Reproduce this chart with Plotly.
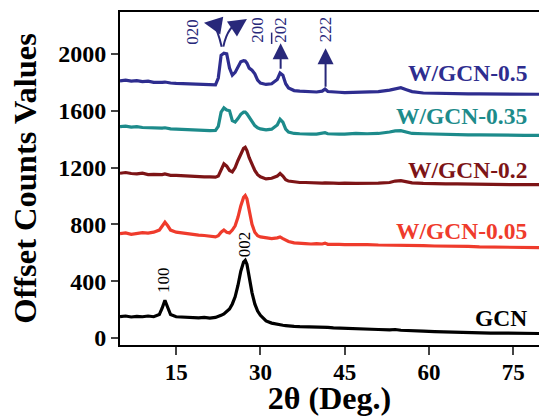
import plotly.graph_objects as go

two_theta = [5, 6, 7, 8, 9, 10, 11, 12,
             12.5, 13, 13.5, 14,
             15, 16, 17, 18, 19, 20, 21, 22,
             22.5, 23, 23.5, 24, 24.5, 25, 25.5, 26, 26.5, 27, 27.3, 27.6, 28, 28.5, 29, 29.5,
             30, 31, 32, 33,
             33.5, 34, 34.5,
             35, 36, 37, 38, 39, 40, 41,
             41.5, 42,
             43, 44, 45,
             47, 49, 51, 53,
             54, 55, 56, 57,
             59, 61, 63, 65, 67, 69, 71, 73, 75, 77,
             79.6]

gcn = [150, 155, 148, 152, 150, 155, 150, 165,
       210, 265, 215, 165,
       150, 148, 145, 147, 142, 145, 140, 145,
       150, 160, 170, 185, 205, 240, 290, 370, 470, 535, 547, 520, 430, 320, 240, 190,
       160, 120, 105, 95,
       92, 90, 88,
       85, 82, 80, 80, 78, 78, 75,
       80, 75,
       72, 70, 72,
       68, 65, 60, 58,
       60, 55, 52, 50,
       48, 45, 42, 42, 40, 38, 35, 35, 33, 32,
       32]

w_005 = [735, 740, 730, 738, 742, 738, 745, 760,
         790, 815, 790, 760,
         745, 740, 730, 728, 725, 722, 718, 712,
         720, 745, 760, 745, 740, 760, 790, 850, 930, 990, 1003, 980, 900, 800, 745, 720,
         712, 705, 700, 705,
         712, 700, 690,
         680, 670, 665, 665, 662, 665, 662,
         668, 660,
         662, 660, 658,
         660, 658, 655, 655,
         652, 655, 650, 650,
         650, 648, 648, 645, 645, 642, 640, 640, 640, 638,
         636]

w_02 = [1160, 1165, 1158, 1155, 1160, 1150, 1152, 1148,
        1150, 1155, 1150, 1145,
        1145, 1142, 1140, 1140, 1138, 1135, 1135, 1132,
        1140, 1190, 1226, 1210, 1180, 1170, 1200, 1250, 1300, 1335, 1343, 1320, 1270, 1220, 1180, 1150,
        1135, 1120, 1125, 1140,
        1158, 1140, 1115,
        1105, 1098, 1095, 1095, 1092, 1092, 1090,
        1092, 1090,
        1090, 1088, 1090,
        1088, 1088, 1090, 1095,
        1105, 1108, 1100, 1092,
        1088, 1085, 1085, 1085, 1083, 1082, 1082, 1081, 1080, 1080,
        1080]

w_035 = [1488, 1492, 1485, 1488, 1482, 1480, 1478, 1475,
         1478, 1480, 1476, 1472,
         1470, 1468, 1466, 1464, 1462, 1460, 1460, 1462,
         1490, 1590, 1620, 1605, 1600, 1530, 1520, 1545, 1575, 1590, 1590, 1578, 1555, 1520, 1495, 1480,
         1472, 1465, 1470, 1500,
         1540, 1520, 1470,
         1450, 1440, 1438, 1435, 1436, 1435, 1438,
         1445, 1438,
         1435, 1436, 1435,
         1440, 1438, 1440, 1450,
         1458, 1460, 1450, 1440,
         1438, 1435, 1432, 1432, 1430, 1430, 1428, 1428, 1428, 1427,
         1427]

w_05 = [1810, 1815, 1808, 1812, 1805, 1808, 1800, 1798,
        1800, 1802, 1798, 1795,
        1792, 1790, 1788, 1788, 1785, 1782, 1780, 1782,
        1830, 1990, 2005, 2000, 1900, 1850, 1870, 1910, 1945, 1952, 1950, 1935, 1900, 1885, 1860, 1815,
        1795, 1785, 1790, 1820,
        1865, 1850, 1790,
        1760, 1742, 1738, 1735, 1735, 1732, 1738,
        1752, 1735,
        1730, 1730, 1728,
        1730, 1728, 1735, 1745,
        1755, 1762, 1748, 1735,
        1725, 1722, 1720, 1720, 1718, 1718, 1718, 1717, 1716, 1716,
        1716]

series_names = ["GCN", "W/GCN-0.05", "W/GCN-0.2", "W/GCN-0.35", "W/GCN-0.5"]
series_values = [gcn, w_005, w_02, w_035, w_05]
series_colors = ["#000000", "#ef3b2c", "#7d1416", "#1d8b8b", "#2e2d8f"]
label_y = [143, 754, 1183, 1563, 1866]

y_ticks = [0, 400, 800, 1200, 1600, 2000]
x_ticks = [15, 30, 45, 60, 75]

peak_labels = ["100", "002", "020", "200", "202", "222"]
peak_label_x = [12.65, 27.1, 18.0, 29.55, 33.6, 41.6]
peak_label_y = [408, 661, 2156, 2170, 2167, 2170]
peak_label_color = ["#000000", "#000000", "#28287a", "#28287a", "#28287a", "#28287a"]

FONT = "Liberation Serif"
NAVY = "#28287a"

fig = go.Figure()
for name, vals, col in zip(series_names, series_values, series_colors):
    fig.add_trace(go.Scatter(x=two_theta, y=vals, mode="lines", name=name,
                             line=dict(color=col, width=3.2), showlegend=False))

annotations = []
for name, ly, col in zip(series_names, label_y, series_colors):
    annotations.append(dict(x=0.976, xref="paper", y=ly, yref="y", text="<b>%s</b>" % name,
                            showarrow=False, xanchor="right", yanchor="middle",
                            font=dict(family=FONT, size=23.5, color=col)))
for t, px, py, c in zip(peak_labels, peak_label_x, peak_label_y, peak_label_color):
    annotations.append(dict(x=px, y=py, xref="x", yref="y", text=t, textangle=-90,
                            showarrow=False, xanchor="center", yanchor="middle",
                            font=dict(family=FONT, size=17, color=c)))

# straight arrows for 202 and 222
for ax_, y_tail, y_tip in [(33.6, 1885, 2075), (41.6, 1759, 2040)]:
    annotations.append(dict(x=ax_, y=y_tip, ax=ax_, ay=y_tail, xref="x", yref="y",
                            axref="x", ayref="y", text="", showarrow=True,
                            arrowhead=2, arrowsize=1.6, arrowwidth=2, arrowcolor=NAVY,
                            standoff=0))
# arrowheads of curved arrows
annotations.append(dict(x=19.95, y=2220, xref="x", yref="y", ax=12, ay=2, text="",
                        showarrow=True, arrowhead=2, arrowsize=1.8, arrowwidth=2,
                        arrowcolor=NAVY, standoff=0))
annotations.append(dict(x=27.6, y=2246, xref="x", yref="y", ax=-9, ay=6, text="",
                        showarrow=True, arrowhead=2, arrowsize=1.8, arrowwidth=2,
                        arrowcolor=NAVY, standoff=0))

shapes = [
    dict(type="path", xref="x", yref="y", path="M 23.1,2051 Q 22.4,2169 21.6,2212",
         line=dict(color=NAVY, width=2)),
    dict(type="path", xref="x", yref="y", path="M 23.4,2051 Q 24.2,2204 26.6,2228",
         line=dict(color=NAVY, width=2)),
    # overbar of the first digit of 202
    dict(type="line", xref="x", yref="y", x0=32.0, x1=32.0, y0=2070, y1=2150,
         line=dict(color=NAVY, width=1.5)),
]

fig.update_layout(
    width=539, height=416,
    margin=dict(l=120, r=0, t=12, b=71, autoexpand=False),
    paper_bgcolor="white", plot_bgcolor="white",
    font=dict(family=FONT, color="black"),
    annotations=annotations, shapes=shapes,
    xaxis=dict(range=[5, 79.6], tickvals=x_ticks, ticks="outside", ticklen=8, tickwidth=2,
               showline=True, linewidth=2, linecolor="black", mirror=True, showgrid=False,
               zeroline=False, automargin=False, ticklabelstandoff=-3,
               tickfont=dict(family=FONT, size=23, weight="bold", color="black"),
               title=dict(text="<b>2θ (Deg.)</b>", font=dict(family=FONT, size=32), standoff=9)),
    yaxis=dict(range=[-49, 2295], tickvals=y_ticks, ticks="outside", ticklen=7, tickwidth=2,
               showline=True, linewidth=2, linecolor="black", showgrid=False, zeroline=False,
               automargin=False,
               tickfont=dict(family=FONT, size=24, weight="bold", color="black"),
               title=dict(text="<b>Offset Counts Values</b>", font=dict(family=FONT, size=32.5),
                          standoff=12)),
)

fig.write_html("out.html", config={"displayModeBar": False},
               post_script="document.body.style.margin='0';")
